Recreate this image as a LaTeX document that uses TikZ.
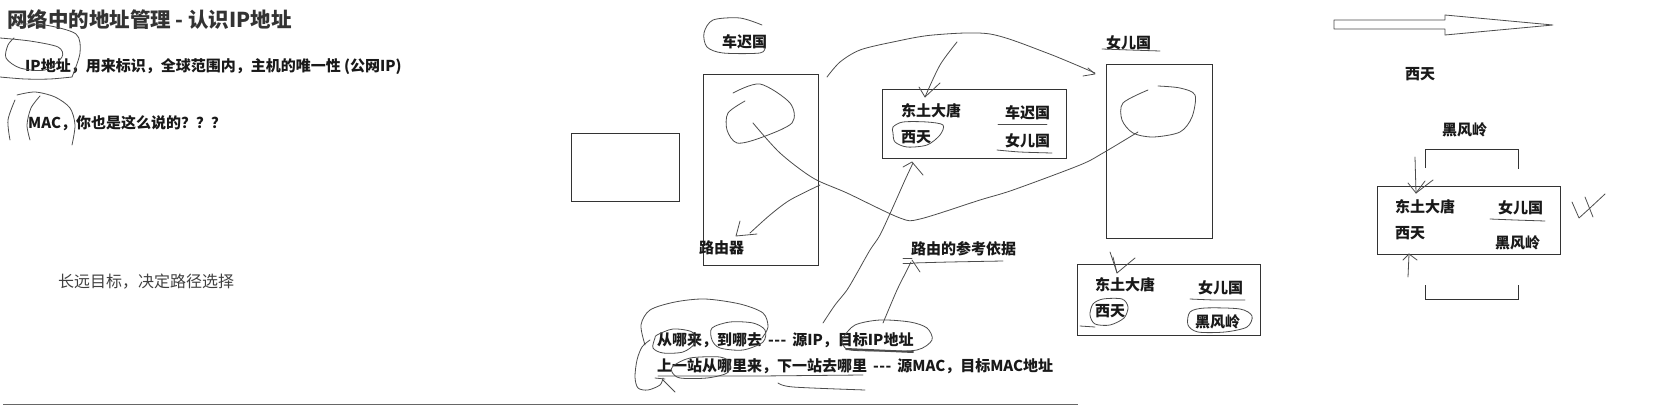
\documentclass[tikz,border=0pt]{standalone}
\usepackage{fontspec}
\setmainfont{Noto Sans CJK SC}
\newcommand{\tripdash}{\hspace{6pt}-\kern0.5pt-\kern0.5pt-\hspace{6pt}}
\tikzset{
  ink/.style={draw=black!70, line width=0.8pt, line cap=round, line join=round},
  frame/.style={draw=black!80, line width=1pt},
  lbl/.style={inner sep=0pt, anchor=west, text=black!90, font=\fontsize{15}{18}\selectfont\bfseries},
  ttl/.style={inner sep=0pt, anchor=west, text=black!80, font=\fontsize{20.5}{24}\selectfont\bfseries},
  plain/.style={inner sep=0pt, anchor=west, text=black!75, font=\fontsize{16}{19}\selectfont},
}
\begin{document}
\begin{tikzpicture}[x=1pt,y=-1pt]
\useasboundingbox (0,0) rectangle (1666,407);
% ---------- left texts
\node[ttl] (title) at (7,20) {网络中的地址管理 - 认识IP地址};
\node[lbl] (ip) at (25,67) {IP地址，用来标识，全球范围内，主机的唯一性 (公网IP)};
\node[lbl] (mac) at (28,123) {MAC，你也是这么说的？？？};
\node[plain] (goal) at (58,282) {长远目标，决定路径选择};
\draw[ink] plot[smooth] coordinates {(0,38) (30,41) (58,47) (62,57) (45,70) (20,68) (6,58) (8,45) (14,38)};
\draw[ink] plot[smooth] coordinates {(14,24) (45,25) (76,34) (80,53) (72,77)};
\draw[ink] plot[smooth] coordinates {(0,77) (25,79) (50,79) (72,77)};
\draw[ink] plot[smooth] coordinates {(17,95) (35,92) (55,97) (70,108) (75,125) (72,145)};
\draw[ink] plot[smooth] coordinates {(40,96) (31,108) (27,125) (30,140)};
\draw[ink] plot[smooth] coordinates {(15,100) (8,120) (10,140)};
% ---------- boxes
\draw[frame] (571,133) rectangle (679,201);
\draw[frame] (703,74) rectangle (818,265);
\node[lbl] (router) at (699,248) {路由器};
\draw[frame] (882,89) rectangle (1066,158);
\draw[frame] (1106,64) rectangle (1212,238);
\draw[frame] (1077,264) rectangle (1260,335);
\draw[frame] (1377,186) rectangle (1560,254);
% ---------- top label 车迟国
\node[lbl] (cc) at (722,42) {车迟国};
\draw[ink] plot[smooth] coordinates {(762,25) (740,18) (713,20) (704,33) (707,47) (723,53) (760,53) (765,47)};
% ---------- router loop and long curve
\draw[ink] plot[smooth] coordinates {(733,93) (760,84) (790,103) (792,123) (760,138) (737,143) (727,130) (728,113) (745,101)};
\draw[ink] plot[smooth] coordinates {(753,123) (780,153) (813,178) (847,193) (900,218) (920,219) (980,200) (1013,190) (1080,165) (1103,153) (1138,132)};
\draw[ink] plot[smooth] coordinates {(820,185) (790,200) (770,215) (750,233)};
\draw[ink] (740,221) -- (736,236) -- (757,234);
% ---------- top arc to 女儿国
\draw[ink] plot[smooth] coordinates {(827,77) (840,62) (860,50) (893,42) (933,35) (990,34) (1047,53) (1095,73)};
\draw[ink] (1083,76) -- (1095,74) -- (1088,68);
% ---------- middle box content
\node[lbl] (m1) at (901,111) {东土大唐};
\node[lbl] (m2) at (1005,113) {车迟国};
\node[lbl] (m3) at (901,137) {西天};
\node[lbl] (m4) at (1005,141) {女儿国};
\draw[ink] (998,124) -- (1047,124);
\draw[ink] plot[smooth] coordinates {(997,150) (1020,152) (1052,153)};
\draw[ink] plot[smooth cycle] coordinates {(893,127) (903,122) (927,122) (943,125) (940,135) (927,145) (907,147) (895,142) (893,133)};
\draw[ink] plot[smooth] coordinates {(957,42) (940,65) (925,97)};
\draw[ink] (919,87) -- (925,97) -- (940,83);
% ---------- arrows from bottom
\draw[ink] plot[smooth] coordinates {(823,323) (835,305) (847,290) (857,273) (870,250) (880,235) (893,207) (905,180) (913,163)};
\draw[ink] (903,167) -- (912,162) -- (923,175);
\node[lbl] (basis) at (911,249) {路由的参考依据};
\draw[ink] plot[smooth] coordinates {(913,263) (950,262) (1003,261)};
\draw[ink] plot[smooth] coordinates {(883,323) (897,290) (906,272) (911,262)};
\draw[ink] (903,258) -- (912,258);
\draw[ink] (903,263) -- (913,263);
\draw[ink] (912,260) -- (920,272);
% ---------- 女儿国 box
\node[lbl] (nv) at (1106,43) {女儿国};
\draw[ink] plot[smooth] coordinates {(1102,49) (1130,50) (1160,51)};
\draw[ink] plot[smooth] coordinates {(1148,90) (1123,103) (1122,120) (1133,133) (1153,137) (1180,132) (1192,117) (1195,95) (1180,88) (1158,86)};
% ---------- bottom right box
\node[lbl] (b1) at (1095,285) {东土大唐};
\node[lbl] (b2) at (1198,288) {女儿国};
\node[lbl] (b3) at (1095,311) {西天};
\node[lbl] (b4) at (1195,322) {黑风岭};
\draw[ink] plot[smooth] coordinates {(1190,299) (1215,300) (1245,300)};
\draw[ink] plot[smooth cycle] coordinates {(1093,304) (1103,299) (1122,299) (1128,307) (1124,318) (1110,325) (1095,324) (1090,315)};
\draw[ink] (1080,326) -- (1095,327);
\draw[ink] plot[smooth cycle] coordinates {(1190,312) (1205,308) (1240,309) (1252,316) (1247,327) (1225,332) (1198,332) (1188,325)};
\draw[ink] (1113,257) -- (1117,273) -- (1135,258);
\draw[ink] (1110,252) -- (1117,273);
% ---------- bottom text
\node[lbl] (l1) at (657,340) {从哪来，到哪去\tripdash 源IP，目标IP地址};
\node[lbl] (l2) at (657,366) {上一站从哪里来，下一站去哪里\tripdash 源MAC，目标MAC地址};
\draw[ink] plot[smooth] coordinates {(645,345) (641,325) (650,310) (675,302) (705,299) (740,304) (763,313) (768,327) (762,338)};
\draw[ink] plot[smooth cycle] coordinates {(657,335) (673,329) (692,332) (695,343) (683,352) (663,353) (653,348) (655,338)};
\draw[ink] plot[smooth cycle] coordinates {(712,328) (730,322) (753,323) (765,330) (763,342) (743,350) (720,348) (712,340)};
\draw[ink] plot[smooth cycle] coordinates {(843,338) (855,325) (880,320) (910,322) (927,328) (932,340) (917,350) (880,351) (850,350) (843,345)};
\draw[ink, line width=2pt] (846,349) -- (913,352);
\draw[ink] plot[smooth] coordinates {(650,340) (642,347) (637,360) (635,377) (638,388) (648,390) (660,385) (663,378)};
\draw[ink] (655,378) -- (665,379);
\draw[ink] (663,380) -- (675,392);
\draw[ink] plot[smooth cycle] coordinates {(673,366) (690,358) (720,357) (730,363) (727,373) (707,378) (680,378) (672,372)};
\draw[ink] (658,376) -- (760,376) -- (863,375);
\draw[ink] plot[smooth] coordinates {(778,383) (793,387) (865,390)};
\draw[draw=black!60, line width=1pt] (3,404) -- (1078,404);
% ---------- right side
\draw[ink, fill=white] (1334,20) -- (1445,20) -- (1445,15) -- (1553,25) -- (1445,35) -- (1445,29) -- (1334,29) -- cycle;
\node[lbl] (west) at (1405,74) {西天};
\node[lbl] (hf) at (1442,130) {黑风岭};
\draw[frame] (1425,168) -- (1425,149) -- (1518,149) -- (1518,169);
\draw[frame] (1425,285) -- (1425,299) -- (1518,299) -- (1518,285);
\node[lbl] (r1) at (1395,207) {东土大唐};
\node[lbl] (r2) at (1395,233) {西天};
\node[lbl] (r3) at (1498,208) {女儿国};
\node[lbl] (r4) at (1495,243) {黑风岭};
\draw[ink] plot[smooth] coordinates {(1490,219) (1515,220) (1545,221)};
\draw[ink] (1415,157) -- (1416,193);
\draw[ink] (1408,183) -- (1416,193) -- (1433,180);
\draw[ink] (1425,181) -- (1416,193);
\draw[ink] (1408,277) -- (1409,254);
\draw[ink] (1403,260) -- (1409,254) -- (1417,260);
\draw[ink] (1572,202) -- (1579,218) -- (1590,208) -- (1605,194);
\draw[ink] (1585,197) -- (1593,217);
\end{tikzpicture}
\end{document}
